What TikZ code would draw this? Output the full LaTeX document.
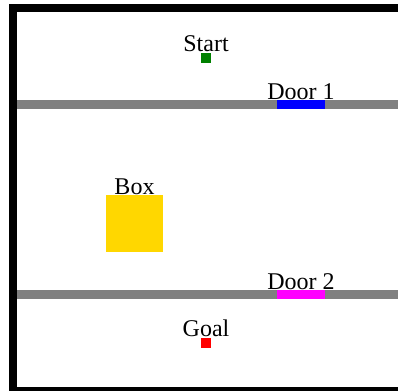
\documentclass[tikz,border=0pt]{standalone}
\usepackage{fontspec}
\setmainfont{Liberation Serif}
\usepackage{tikz}
\usetikzlibrary{positioning}
\definecolor{wall}{RGB}{128,128,128}
\definecolor{startc}{RGB}{0,128,0}
\definecolor{boxc}{RGB}{255,215,0}
\definecolor{door1c}{RGB}{0,0,255}
\definecolor{door2c}{RGB}{255,0,255}
\definecolor{goalc}{RGB}{255,0,0}

\begin{document}
\begin{tikzpicture}[x=1bp,y=-1bp,font=\fontsize{24bp}{28bp}\selectfont,
cell/.style={inner sep=0pt,minimum size=10bp},
lbl/.style={anchor=base,inner sep=0pt,yshift=0.5bp},
door/.style={inner sep=0pt,minimum width=48bp,minimum height=9bp}]
\useasboundingbox (0,0) rectangle (398,391);
% walls of the maze
\draw[line width=8bp](402,8)--(13,8)--(13,391)--(402,391);
\fill[wall](17,100) rectangle (402,109);
\fill[wall](17,290) rectangle (402,299);
\node[door,fill=door1c](door1) at (301,104.5){};
\node[door,fill=door2c](door2) at (301,294.5){};
\node[cell,fill=startc](start) at (206,57.5){};
\node[cell,fill=goalc](goal) at (206,342.5){};
\node[inner sep=0pt,minimum size=57bp,fill=boxc](box) at (134.5,223.5){};
\node[lbl] at (start.north){Start};
\node[lbl] at (door1.north){Door 1};
\node[lbl] at (box.north){Box};
\node[lbl] at (door2.north){Door 2};
\node[lbl] at (goal.north){Goal};
\end{tikzpicture}
\end{document}
